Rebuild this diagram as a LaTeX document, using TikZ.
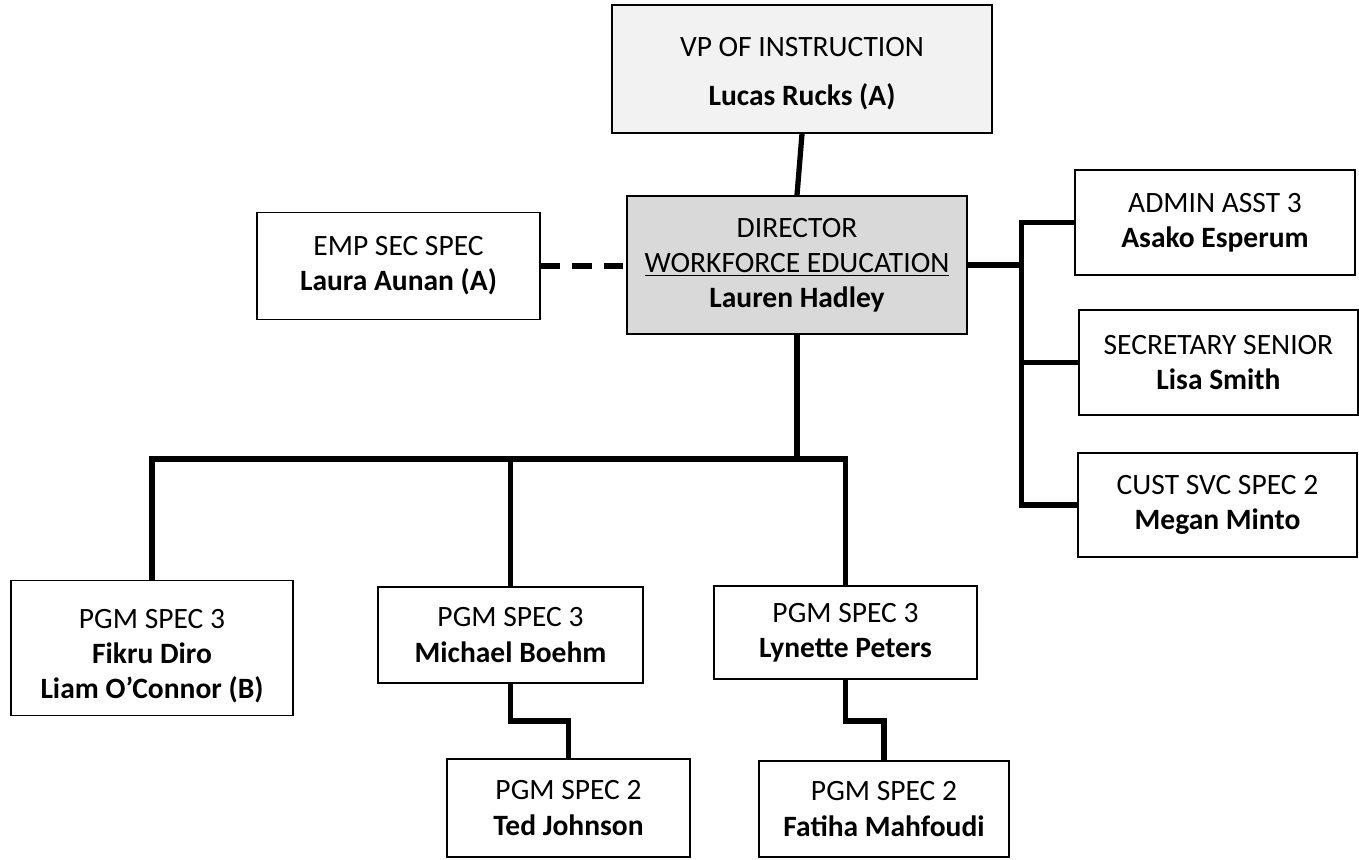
\documentclass[tikz,border=0pt]{standalone}
\usepackage{fontspec}
\setmainfont{Carlito}
\usepackage{tikz}
\usetikzlibrary{positioning,calc}
\definecolor{vpgray}{HTML}{F2F2F2}
\definecolor{dirgray}{HTML}{D9D9D9}
\tikzset{
  posbox/.style={draw=black, line width=1pt, align=center, inner sep=0pt,
    font=\fontsize{16.8}{20}\selectfont},
  orgline/.style={line width=3pt},
}

\begin{document}
\begin{tikzpicture}[x={(0.02cm,0)}, y={(0,-0.02cm)}]
\useasboundingbox (0,0) rectangle (1359,859);

% top of the chart
\node[posbox, fill=vpgray, minimum width=7.6cm, minimum height=2.56cm] (vp) at (802,69) {};
\node[posbox, draw=none] (vptext) at ([yshift=-0.1cm]vp.center)
  {VP OF INSTRUCTION\\[8pt] \textbf{Lucas Rucks (A)}};
\node[posbox, fill=dirgray, minimum width=6.8cm, minimum height=2.76cm] (dir) at (797,265)
  {DIRECTOR\\ \underline{WORKFORCE EDUCATION}\\ \textbf{Lauren Hadley}};
\node[posbox, minimum width=5.66cm, minimum height=2.14cm] (emp) at (398.5,266)
  {EMP SEC SPEC\\ \textbf{Laura Aunan (A)}};

% staff on the right
\node[posbox, minimum width=5.6cm, minimum height=2.1cm] (admin) at (1215,222.5)
  {ADMIN ASST 3\\ \textbf{Asako Esperum}};
\node[posbox, minimum width=5.58cm, minimum height=2.1cm] (sec) at (1218.5,362.5)
  {SECRETARY SENIOR\\ \textbf{Lisa Smith}};
\node[posbox, minimum width=5.58cm, minimum height=2.08cm] (cust) at (1217.5,505)
  {CUST SVC SPEC 2\\ \textbf{Megan Minto}};

% program specialists
\node[posbox, minimum width=5.64cm, minimum height=2.7cm] (fikru) at (152,648) {};
\node[posbox, draw=none] (fikrutext) at ([yshift=-0.16cm]fikru.center)
  {PGM SPEC 3\\ \textbf{Fikru Diro}\\ \textbf{Liam O’Connor (B)}};
\node[posbox, minimum width=5.3cm, minimum height=1.92cm] (boehm) at (510.5,635)
  {PGM SPEC 3\\ \textbf{Michael Boehm}};
\node[posbox, minimum width=5.26cm, minimum height=1.86cm] (peters) at (845.5,632.5)
  {PGM SPEC 3\\ \textbf{Lynette Peters}};
\node[posbox, minimum width=4.86cm, minimum height=1.96cm] (johnson) at (568.5,808)
  {PGM SPEC 2\\ \textbf{Ted Johnson}};
\node[posbox, minimum width=5.0cm, minimum height=1.92cm] (mahfoudi) at (884,809)
  {PGM SPEC 2\\ \textbf{Fatiha Mahfoudi}};

% connectors
\draw[orgline] (vp.south) -- (dir.north);
\draw[line width=3pt, dash pattern=on 11pt off 7pt] (emp.east) -- (emp.east -| dir.west);
\draw[orgline] (dir.east) -- ++(54,0) coordinate (rbus);
\draw[orgline] (admin.west) -- (admin.west -| rbus) -- (cust.west -| rbus) -- (cust.west);
\draw[orgline] (sec.west) -- (sec.west -| rbus);
\draw[orgline] (dir.south) -- (dir.south |- 0,459) coordinate (bbus);
\draw[orgline] (fikru.north) |- (peters.north |- bbus) -- (peters.north);
\draw[orgline] (boehm.north) -- (boehm.north |- bbus);
\draw[orgline] (boehm.south) -- ++(0,37) -| (johnson.north);
\draw[orgline] (peters.south) -- ++(0,41) -| (mahfoudi.north);
\end{tikzpicture}
\end{document}
